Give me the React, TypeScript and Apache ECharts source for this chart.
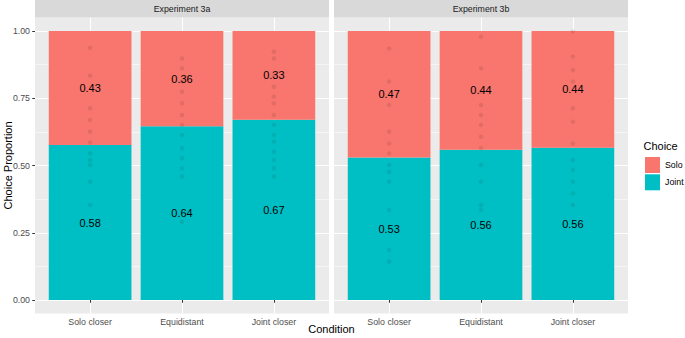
import React, { useEffect, useRef } from "react";
import * as echarts from "echarts";

const categories = ["Solo closer", "Equidistant", "Joint closer"];
const experiments = ["Experiment 3a", "Experiment 3b"];
const choiceNames = ["Solo", "Joint"];

const joint3a = [0.576, 0.646, 0.67];
const solo3a = [0.424, 0.354, 0.33];
const joint3b = [0.53, 0.559, 0.566];
const solo3b = [0.47, 0.441, 0.434];

const jointLabels3a = ["0.58", "0.64", "0.67"];
const soloLabels3a = ["0.43", "0.36", "0.33"];
const jointLabels3b = ["0.53", "0.56", "0.56"];
const soloLabels3b = ["0.47", "0.44", "0.44"];

// participant-level joint proportions (dots)
const pts3aSoloCloser = [0.938, 0.834, 0.713, 0.669, 0.626, 0.586, 0.545, 0.52, 0.502, 0.44, 0.353];
const pts3aEquidistant = [0.898, 0.861, 0.812, 0.774, 0.731, 0.688, 0.651, 0.613, 0.564, 0.527, 0.49, 0.459, 0.291];
const pts3aJointCloser = [0.923, 0.898, 0.836, 0.793, 0.756, 0.731, 0.688, 0.651, 0.613, 0.589, 0.551, 0.52, 0.49, 0.459];
const pts3bSoloCloser = [0.935, 0.812, 0.725, 0.626, 0.582, 0.545, 0.502, 0.477, 0.44, 0.335, 0.186, 0.143];
const pts3bEquidistant = [0.979, 0.861, 0.774, 0.725, 0.688, 0.651, 0.607, 0.564, 0.502, 0.44, 0.353, 0.335];
const pts3bJointCloser = [0.998, 0.905, 0.855, 0.812, 0.713, 0.663, 0.582, 0.52, 0.483, 0.44, 0.397, 0.353];

const SOLO = "#F8766D";
const JOINT = "#00BFC4";
const FONT = "Liberation Sans, Arial, Helvetica, sans-serif";

export default function App() {
  const ref = useRef<HTMLDivElement>(null);
  useEffect(() => {
    document.body.style.margin = "0";
    const chart = echarts.init(ref.current!, null, { renderer: "svg" });

    const W = 685;
    const H = 338;
    const panelLeft = [35, 334];
    const panelW = 294;
    const panelTop = 17.5;
    const panelBottom = 313.4;
    const dataTop = 31;
    const dataBottom = 300;
    const unit = panelW / 3.2;

    const panels = [
      { joint: joint3a, solo: solo3a, jl: jointLabels3a, sl: soloLabels3a, pts: [pts3aSoloCloser, pts3aEquidistant, pts3aJointCloser] },
      { joint: joint3b, solo: solo3b, jl: jointLabels3b, sl: soloLabels3b, pts: [pts3bSoloCloser, pts3bEquidistant, pts3bJointCloser] },
    ];

    const grid: any[] = [];
    const xAxis: any[] = [];
    const yAxis: any[] = [];
    const series: any[] = [];
    const graphic: any[] = [];

    panels.forEach((p, i) => {
      const left = panelLeft[i];
      const right = W - left - panelW;
      const bLeft = left + 0.1 * unit;
      const bRight = W - bLeft - 3 * unit;
      const gP = 3 * i;
      const gY = 3 * i + 1;
      const gB = 3 * i + 2;
      // panel grid (background, vertical grid lines, x ticks)
      grid.push({ left, right, top: panelTop, bottom: H - panelBottom, show: true, backgroundColor: "#EBEBEB", borderWidth: 0, z: -1 });
      // y grid (0..1, full panel width)
      grid.push({ left, right, top: dataTop, bottom: H - dataBottom, show: false });
      // bar grid (categories)
      grid.push({ left: bLeft, right: bRight, top: dataTop, bottom: H - dataBottom, show: false });

      xAxis.push({
        gridIndex: gP, type: "value", min: 0.4, max: 3.6, z: 1,
        axisLine: { show: false },
        axisTick: { show: true, customValues: [1, 2, 3], length: 2.75, lineStyle: { color: "#333333", width: 1 } },
        axisLabel: {
          show: true, customValues: [1, 2, 3], margin: 4.4, fontSize: 8.8, color: "#4D4D4D", fontFamily: FONT,
          formatter: (v: number) => categories[Math.round(v) - 1] ?? "",
        },
        splitLine: { show: true, lineStyle: { color: "#FFFFFF", width: 1 } },
      });
      xAxis.push({ gridIndex: gY, type: "value", min: 0, max: 1, show: false, splitLine: { show: false } });
      xAxis.push({ gridIndex: gB, type: "category", data: categories, boundaryGap: true, show: false });

      yAxis.push({ gridIndex: gP, type: "value", min: -0.05, max: 1.05, show: false, splitLine: { show: false } });
      yAxis.push({
        gridIndex: gY, type: "value", min: 0, max: 1, interval: 0.25, z: 1,
        axisLine: { show: false },
        axisTick: { show: i === 0, length: 2.75, lineStyle: { color: "#333333", width: 1 } },
        axisLabel: { show: i === 0, margin: 5, fontSize: 8.8, color: "#4D4D4D", fontFamily: FONT, formatter: (v: number) => v.toFixed(2) },
        splitLine: { show: true, lineStyle: { color: "#FFFFFF", width: 1 } },
        minorTick: { show: false, splitNumber: 2 },
        minorSplitLine: { show: true, lineStyle: { color: "#FFFFFF", width: 0.5 } },
      });
      yAxis.push({ gridIndex: gB, type: "value", min: 0, max: 1, show: false, splitLine: { show: false } });

      series.push({
        type: "bar", name: choiceNames[1], xAxisIndex: gB, yAxisIndex: gB, stack: "s" + i, barWidth: "90%", z: 3,
        itemStyle: { color: JOINT },
        data: p.joint,
        label: { show: true, position: "inside", color: "#000000", fontSize: 11, fontFamily: FONT, formatter: (q: any) => p.jl[q.dataIndex] },
      });
      series.push({
        type: "bar", name: choiceNames[0], xAxisIndex: gB, yAxisIndex: gB, stack: "s" + i, barWidth: "90%", z: 3,
        itemStyle: { color: SOLO },
        data: p.solo,
        label: { show: true, position: "inside", color: "#000000", fontSize: 11, fontFamily: FONT, formatter: (q: any) => p.sl[q.dataIndex] },
      });
      series.push({
        type: "scatter", name: "pts" + i, xAxisIndex: gB, yAxisIndex: gB, z: 4, silent: true,
        symbolSize: 4.5,
        itemStyle: { color: "rgba(20,20,20,0.12)" },
        data: p.pts.flatMap((arr, k) => arr.map((v) => [k, v])),
      });
      // facet strip
      graphic.push({ type: "rect", shape: { x: left, y: 0, width: panelW, height: panelTop }, style: { fill: "#D9D9D9" }, silent: true });
      graphic.push({
        type: "text", x: left + panelW / 2, y: panelTop / 2, silent: true,
        style: { text: experiments[i], align: "center", verticalAlign: "middle", fontSize: 8.8, fill: "#1A1A1A", fontFamily: FONT },
      });
    });

    graphic.push({
      type: "text", x: 8, y: (panelTop + panelBottom) / 2, rotation: Math.PI / 2, silent: true,
      style: { text: "Choice Proportion", align: "center", verticalAlign: "middle", fontSize: 11, fill: "#000000", fontFamily: FONT },
    });
    graphic.push({
      type: "text", x: (panelLeft[0] + panelLeft[1] + panelW) / 2, y: 329, silent: true,
      style: { text: "Condition", align: "center", verticalAlign: "middle", fontSize: 11, fill: "#000000", fontFamily: FONT },
    });
    graphic.push({
      type: "text", x: 643.5, y: 146, silent: true,
      style: { text: "Choice", align: "left", verticalAlign: "middle", fontSize: 11, fill: "#000000", fontFamily: FONT },
    });

    chart.setOption({
      animation: false,
      grid,
      xAxis,
      yAxis,
      series,
      graphic,
      legend: {
        data: choiceNames,
        orient: "vertical",
        left: 645,
        top: 157,
        itemWidth: 15,
        itemHeight: 16,
        itemGap: 1.3,
        icon: "rect",
        selectedMode: false,
        padding: 0,
        textStyle: { fontSize: 8.8, color: "#000000", fontFamily: FONT, padding: [0, 0, 0, 0] },
      },
    });
    return () => chart.dispose();
  }, []);
  return <div ref={ref} style={{ width: 685, height: 338 }} />;
}
